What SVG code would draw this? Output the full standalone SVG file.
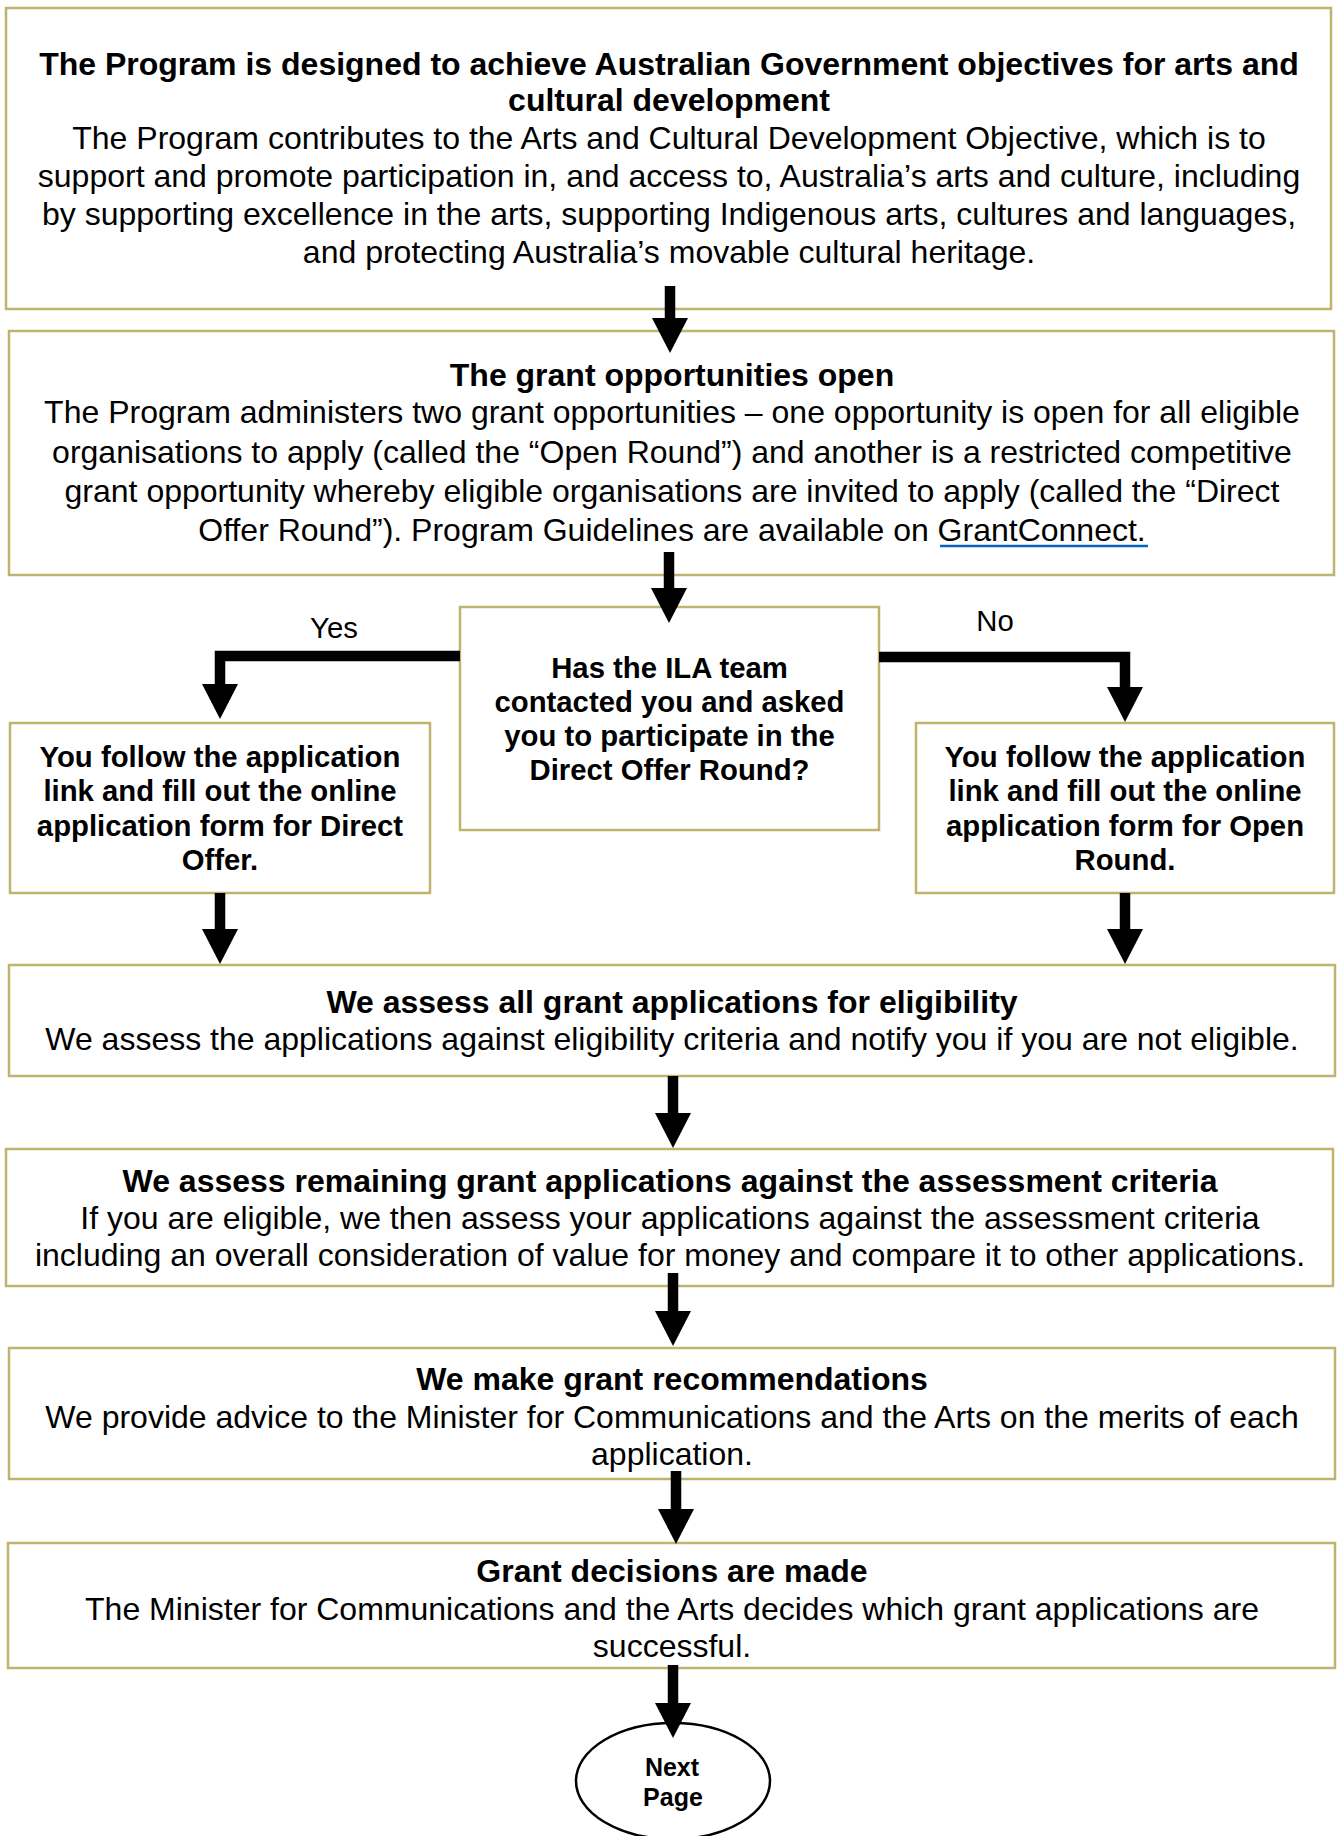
<svg xmlns="http://www.w3.org/2000/svg" width="1337" height="1836" viewBox="0 0 1337 1836">
<style>
.box{fill:#fff;stroke:#BFB36E;stroke-width:2.5}
.t{font-family:"Liberation Sans",Arial,sans-serif;fill:#000;text-anchor:middle}
.big{font-size:32px}
.mid{font-size:29.3px}
.sm{font-size:25px}
.b{font-weight:bold}
.conn{fill:none;stroke:#000;stroke-width:10.5;stroke-linejoin:miter}
</style>
<defs>
<marker id="ah" markerUnits="userSpaceOnUse" markerWidth="36" markerHeight="36" refX="0" refY="18" orient="auto">
<path d="M0,0 L35,18 L0,36 Z" fill="#000"/>
</marker>
</defs>
<rect width="1337" height="1836" fill="#fff"/>
<g id="n-objectives">
<rect class="box" x="6" y="8" width="1325" height="301"/>
<text class="t big b" x="669" y="75">The Program is designed to achieve Australian Government objectives for arts and</text>
<text class="t big b" x="669" y="111">cultural development</text>
<text class="t big" x="669" y="149">The Program contributes to the Arts and Cultural Development Objective, which is to</text>
<text class="t big" x="669" y="187">support and promote participation in, and access to, Australia’s arts and culture, including</text>
<text class="t big" x="669" y="225">by supporting excellence in the arts, supporting Indigenous arts, cultures and languages,</text>
<text class="t big" x="669" y="263">and protecting Australia’s movable cultural heritage.</text>
</g>
<g id="n-open">
<rect class="box" x="9" y="331" width="1325" height="244"/>
<text class="t big b" x="672" y="386">The grant opportunities open</text>
<text class="t big" x="672" y="423">The Program administers two grant opportunities – one opportunity is open for all eligible</text>
<text class="t big" x="672" y="462.5">organisations to apply (called the “Open Round”) and another is a restricted competitive</text>
<text class="t big" x="672" y="502">grant opportunity whereby eligible organisations are invited to apply (called the “Direct</text>
<text class="t big" x="672" y="540.5">Offer Round”). Program Guidelines are available on <tspan>GrantConnect.</tspan></text>
<line x1="940" y1="546" x2="1148" y2="546" stroke="#0563C1" stroke-width="2.5"/>
</g>
<g id="n-decision">
<rect class="box" x="460" y="607" width="419" height="223"/>
<text class="t mid b" x="669.5" y="678">Has the ILA team</text>
<text class="t mid b" x="669.5" y="712">contacted you and asked</text>
<text class="t mid b" x="669.5" y="746">you to participate in the</text>
<text class="t mid b" x="669.5" y="780">Direct Offer Round?</text>
</g>
<g id="n-direct">
<rect class="box" x="10" y="723" width="420" height="170"/>
<text class="t mid b" x="220" y="767">You follow the application</text>
<text class="t mid b" x="220" y="801">link and fill out the online</text>
<text class="t mid b" x="220" y="836">application form for Direct</text>
<text class="t mid b" x="220" y="870">Offer.</text>
</g>
<g id="n-openround">
<rect class="box" x="916" y="723" width="418" height="170"/>
<text class="t mid b" x="1125" y="767">You follow the application</text>
<text class="t mid b" x="1125" y="801">link and fill out the online</text>
<text class="t mid b" x="1125" y="836">application form for Open</text>
<text class="t mid b" x="1125" y="870">Round.</text>
</g>
<g id="n-eligibility">
<rect class="box" x="9" y="965" width="1326" height="111"/>
<text class="t big b" x="672" y="1013">We assess all grant applications for eligibility</text>
<text class="t big" x="672" y="1050">We assess the applications against eligibility criteria and notify you if you are not eligible.</text>
</g>
<g id="n-assessment">
<rect class="box" x="6" y="1149" width="1327" height="137"/>
<text class="t big b" x="670" y="1192">We assess remaining grant applications against the assessment criteria</text>
<text class="t big" x="670" y="1229">If you are eligible, we then assess your applications against the assessment criteria</text>
<text class="t big" x="670" y="1266">including an overall consideration of value for money and compare it to other applications.</text>
</g>
<g id="n-recommend">
<rect class="box" x="9" y="1348" width="1326" height="131"/>
<text class="t big b" x="672" y="1390">We make grant recommendations</text>
<text class="t big" x="672" y="1427.5">We provide advice to the Minister for Communications and the Arts on the merits of each</text>
<text class="t big" x="672" y="1464.5">application.</text>
</g>
<g id="n-decisions">
<rect class="box" x="8" y="1543" width="1327" height="125"/>
<text class="t big b" x="672" y="1582">Grant decisions are made</text>
<text class="t big" x="672" y="1620">The Minister for Communications and the Arts decides which grant applications are</text>
<text class="t big" x="672" y="1657">successful.</text>
</g>
<g id="n-next">
<ellipse cx="673" cy="1781" rx="97" ry="58" fill="#fff" stroke="#000" stroke-width="2.5"/>
<text class="t sm b" x="672" y="1776">Next</text>
<text class="t sm b" x="673" y="1806">Page</text>
</g>
<g id="connectors">
<path class="conn" d="M670,286 V318" marker-end="url(#ah)"/>
<path class="conn" d="M669,552 V588" marker-end="url(#ah)"/>
<path class="conn" d="M460,656 H220 V684" marker-end="url(#ah)"/>
<path class="conn" d="M879,657 H1125 V687" marker-end="url(#ah)"/>
<path class="conn" d="M220,893 V929" marker-end="url(#ah)"/>
<path class="conn" d="M1125,893 V929" marker-end="url(#ah)"/>
<path class="conn" d="M673,1076 V1113" marker-end="url(#ah)"/>
<path class="conn" d="M673,1273 V1311" marker-end="url(#ah)"/>
<path class="conn" d="M676,1471 V1509" marker-end="url(#ah)"/>
<path class="conn" d="M673,1665 V1703" marker-end="url(#ah)"/>
<text class="t mid" x="334" y="638">Yes</text>
<text class="t mid" x="995" y="631">No</text>
</g>
</svg>
